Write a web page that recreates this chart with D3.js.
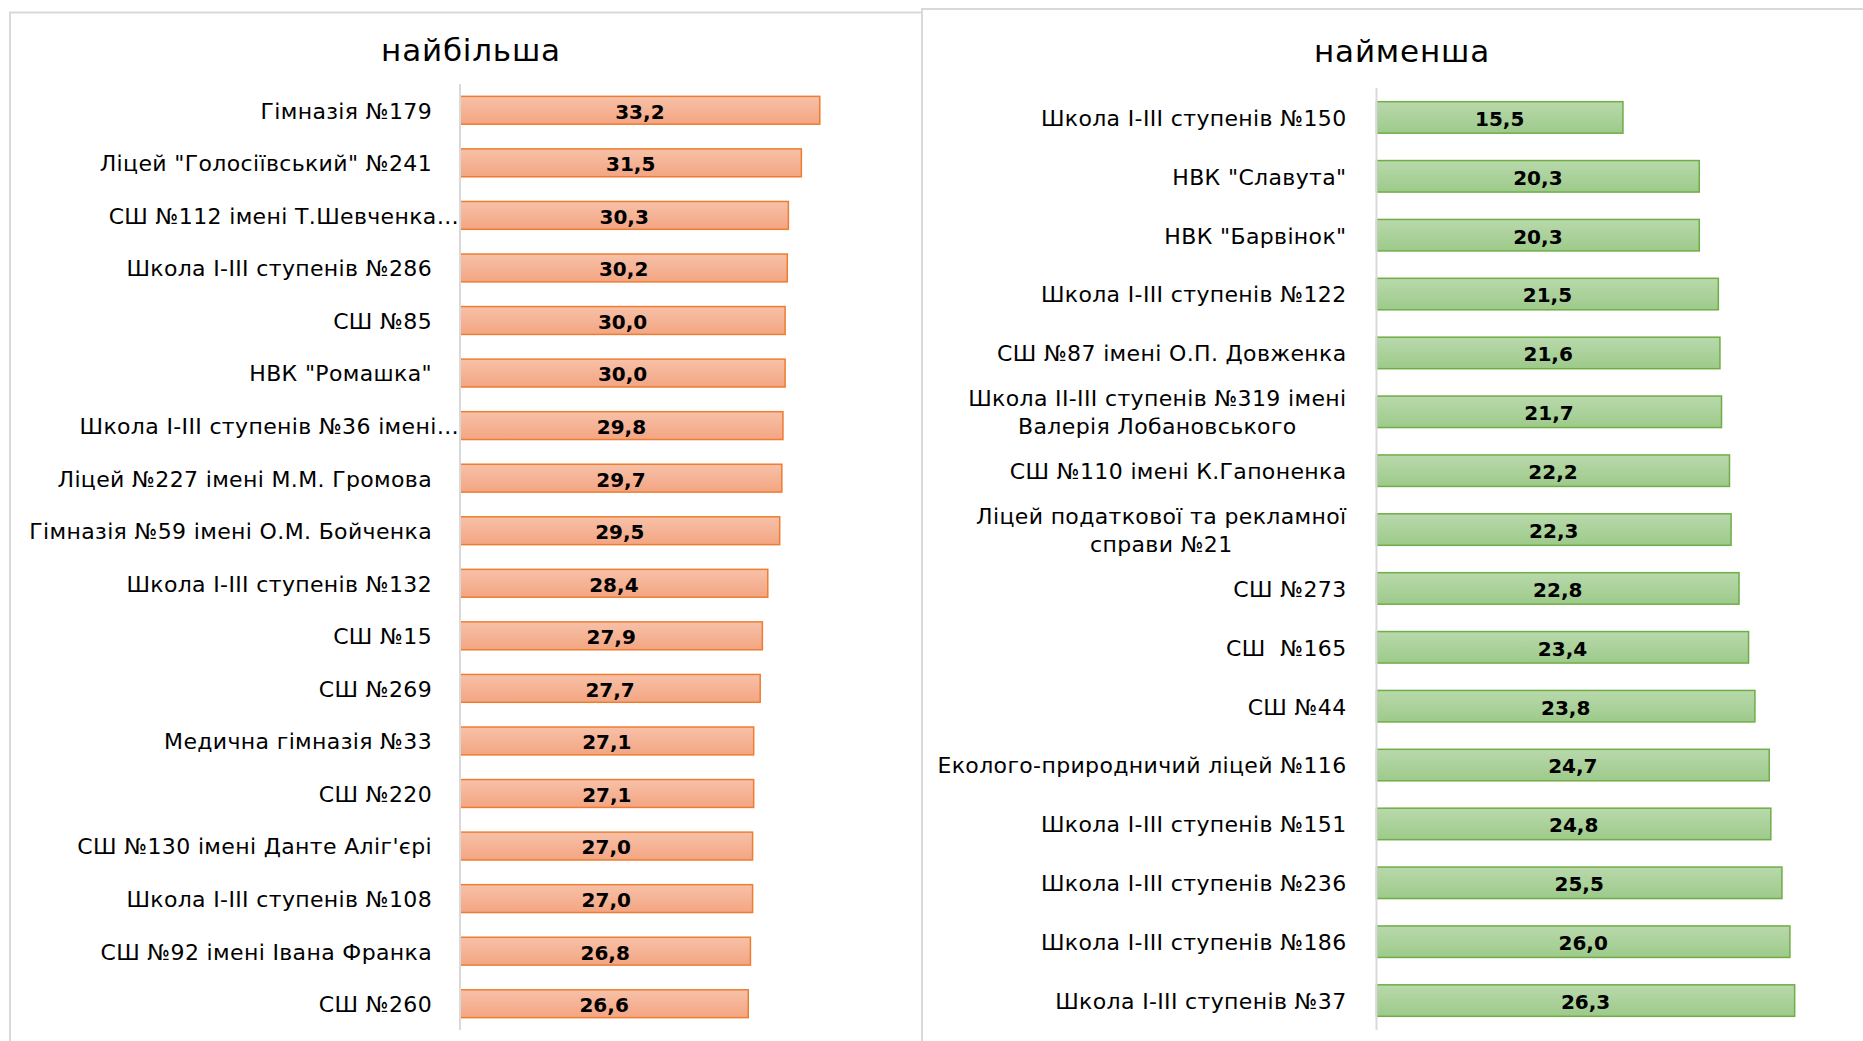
<style>
  body {
    margin: 0;
    background: #fff;
  }

  .cat {
    font: 22px "DejaVu Sans", sans-serif;
    letter-spacing: 0.35px;
    fill: #000;
  }

  .val {
    font: bold 20px "DejaVu Sans", sans-serif;
    fill: #000;
  }

  .ttl {
    font: 31px "DejaVu Sans", sans-serif;
    letter-spacing: 0.8px;
    fill: #000;
  }
</style>
<script src="https://cdn.jsdelivr.net/npm/d3@7"></script>
<svg width="1863" height="1041" id="chart"></svg>
<script>
  // найбільша
  const topNames = [
    "Гімназія №179",
    'Ліцей "Голосіївський" №241',
    "СШ №112 імені Т.Шевченка…",
    "Школа І-ІІІ ступенів №286",
    "СШ №85",
    'НВК "Ромашка"',
    "Школа І-ІІІ ступенів №36 імені…",
    "Ліцей №227 імені М.М. Громова",
    "Гімназія №59 імені О.М. Бойченка",
    "Школа І-ІІІ ступенів №132",
    "СШ №15",
    "СШ №269",
    "Медична гімназія №33",
    "СШ №220",
    "СШ №130 імені Данте Аліг'єрі",
    "Школа І-ІІІ ступенів №108",
    "СШ №92 імені Івана Франка",
    "СШ №260",
  ];
  const topValues = [33.2, 31.5, 30.3, 30.2, 30.0, 30.0, 29.8, 29.7, 29.5, 28.4, 27.9, 27.7, 27.1, 27.1, 27.0, 27.0, 26.8, 26.6];

  // найменша
  const lowNames = [
    "Школа І-ІІІ ступенів №150",
    'НВК "Славута"',
    'НВК "Барвінок"',
    "Школа І-ІІІ ступенів №122",
    "СШ №87 імені О.П. Довженка",
    "Школа ІІ-ІІІ ступенів №319 імені\nВалерія Лобановського",
    "СШ №110 імені К.Гапоненка",
    "Ліцей податкової та рекламної\nсправи №21",
    "СШ №273",
    "СШ  №165",
    "СШ №44",
    "Еколого-природничий ліцей №116",
    "Школа І-ІІІ ступенів №151",
    "Школа І-ІІІ ступенів №236",
    "Школа І-ІІІ ступенів №186",
    "Школа І-ІІІ ступенів №37",
  ];
  const lowValues = [15.5, 20.3, 20.3, 21.5, 21.6, 21.7, 22.2, 22.3, 22.8, 23.4, 23.8, 24.7, 24.8, 25.5, 26.0, 26.3];

  const svg = d3.select("#chart");
  const defs = svg.append("defs");

  function gradient(id, c1, c2) {
    const g = defs.append("linearGradient").attr("id", id).attr("x1", 0).attr("y1", 0).attr("x2", 0).attr("y2", 1);
    g.append("stop").attr("offset", "0%").attr("stop-color", c1);
    g.append("stop").attr("offset", "100%").attr("stop-color", c2);
  }
  gradient("gOrange", "#f7c1a8", "#f3a582");
  gradient("gGreen", "#b9d9ac", "#9dca8a");

  const fmt = (v) => v.toFixed(1).replace(".", ",");

  function drawPanel(p) {
    const g = svg.append("g");

    // panel frame
    g.append("rect")
      .attr("x", p.box[0])
      .attr("y", p.box[1])
      .attr("width", p.box[2])
      .attr("height", p.box[3])
      .attr("fill", "#fff")
      .attr("stroke", "#d9d9d9")
      .attr("stroke-width", 2);

    g.append("text")
      .attr("class", "ttl")
      .attr("x", p.titleX)
      .attr("y", p.titleY)
      .attr("text-anchor", "middle")
      .text(p.title);

    const x = d3.scaleLinear().domain([0, p.max]).range([p.x0, p.x1]);
    const y = d3.scaleBand().domain(p.names).range([p.y0, p.y1]).paddingInner(p.pad).paddingOuter(p.pad / 2);

    g.selectAll(".bar")
      .data(p.names)
      .join("rect")
      .attr("class", "bar")
      .attr("x", x(0))
      .attr("y", (d) => y(d))
      .attr("width", (d, i) => x(p.values[i]) - x(0))
      .attr("height", y.bandwidth())
      .attr("fill", `url(#${p.grad})`)
      .attr("stroke", p.stroke)
      .attr("stroke-width", 1.5);

    // category axis line
    g.append("line")
      .attr("x1", x(0))
      .attr("x2", x(0))
      .attr("y1", p.y0)
      .attr("y2", p.y1)
      .attr("stroke", "#d9d9d9")
      .attr("stroke-width", 2);

    g.selectAll(".val")
      .data(p.names)
      .join("text")
      .attr("class", "val")
      .attr("x", (d, i) => (x(0) + x(p.values[i])) / 2)
      .attr("y", (d) => y(d) + y.bandwidth() / 2)
      .attr("dy", "0.42em")
      .attr("text-anchor", "middle")
      .text((d, i) => fmt(p.values[i]));

    // category labels, multi-line ones centred on each other
    const lh = 28.5;
    p.names.forEach((name) => {
      const lines = name.split("\n");
      const cy = y(name) + y.bandwidth() / 2;
      const right = name.endsWith("…") ? x(0) - 1 : x(0) - p.gap;
      const t = g.append("text").attr("class", "cat");
      const spans = lines.map((ln, k) =>
        t.append("tspan")
          .attr("xml:space", "preserve")
          .attr("y", cy + (k - (lines.length - 1) / 2) * lh)
          .attr("dy", "0.38em")
          .text(ln)
      );
      const widths = spans.map((s) => s.node().getComputedTextLength());
      const w = d3.max(widths);
      spans.forEach((s, k) => s.attr("x", right - w / 2).attr("text-anchor", "middle"));
    });
  }

  drawPanel({
    title: "найбільша",
    names: topNames,
    values: topValues,
    box: [10, 12.5, 912, 1060],
    titleX: 471,
    titleY: 61,
    max: 35,
    x0: 460,
    x1: 839.3,
    y0: 84,
    y1: 1030,
    pad: 0.47,
    gap: 28,
    grad: "gOrange",
    stroke: "#ed7d31",
  });

  drawPanel({
    title: "найменша",
    names: lowNames,
    values: lowValues,
    box: [922, 9, 980, 1060],
    titleX: 1402,
    titleY: 62,
    max: 30,
    x0: 1376.5,
    x1: 1853.5,
    y0: 88,
    y1: 1030,
    pad: 0.465,
    gap: 30,
    grad: "gGreen",
    stroke: "#70ad47",
  });
</script>
